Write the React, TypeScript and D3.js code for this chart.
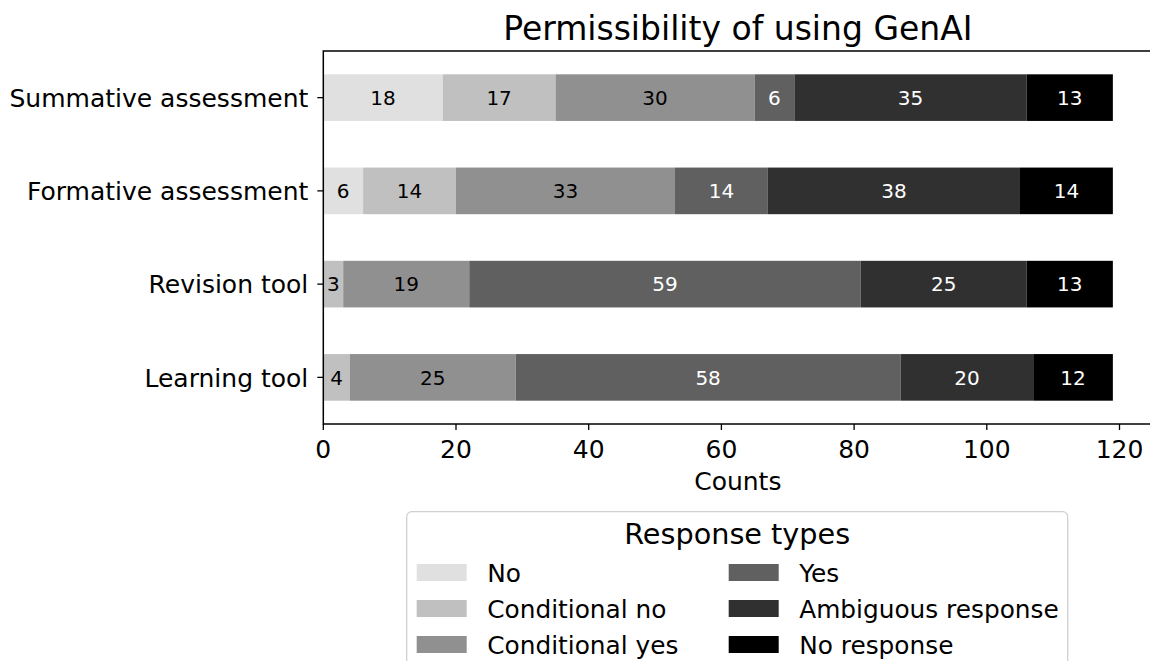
import React from "react";
import * as d3 from "d3";

const categories = ["Summative assessment", "Formative assessment", "Revision tool", "Learning tool"];
const responseTypes = ["No", "Conditional no", "Conditional yes", "Yes", "Ambiguous response", "No response"];
const colors = ["#e0e0e0", "#c0c0c0", "#909090", "#606060", "#303030", "#000000"];
const textColors = ["#000", "#000", "#000", "#fff", "#fff", "#fff"];
// values per response type, in category order
const noVals = [18, 6, 0, 0];
const condNoVals = [17, 14, 3, 4];
const condYesVals = [30, 33, 19, 25];
const yesVals = [6, 14, 59, 58];
const ambiguousVals = [35, 38, 25, 20];
const noResponseVals = [13, 14, 13, 12];
const seriesValues = [noVals, condNoVals, condYesVals, yesVals, ambiguousVals, noResponseVals];
const xTicks = [0, 20, 40, 60, 80, 100, 120];

const FONT = "'DejaVu Sans', sans-serif";

export default function App() {
  const W = 1150, H = 661;
  const left = 323.3;
  const top = 51, bottom = 424;
  const totals = categories.map((_, i) => d3.sum(seriesValues, (s) => s[i]));
  const xMax = (d3.max(totals) as number) * 1.05;
  const x = d3.scaleLinear().domain([0, xMax]).range([left, left + 6.635 * xMax]);
  const n = categories.length;
  // category index 0 at top; position value = n-1-i
  const y = d3.scaleLinear().domain([-0.5, n - 0.5]).range([bottom, top]);
  const barH = y(0) - y(0.5);

  const stack = categories.map((c, i) => {
    let acc = 0;
    return seriesValues.map((s, k) => {
      const v = s[i];
      const seg = { k, x0: acc, x1: acc + v, v };
      acc += v;
      return seg;
    });
  });

  const right = x(xMax);
  const legendRows = 3;

  return (
    <svg width={W} height={H} style={{ position: "absolute", left: 0, top: 0, display: "block" }} fontFamily={FONT}>
      <rect x={0} y={0} width={W} height={H} fill="#fff" />
      <text x={(left + right) / 2} y={39.5} textAnchor="middle" fontSize={33} fill="#000">
        Permissibility of using GenAI
      </text>
      {categories.map((c, i) => {
        const cy = y(n - 1 - i);
        return (
          <g key={c}>
            {stack[i].map((seg) =>
              seg.v > 0 ? (
                <g key={seg.k}>
                  <rect
                    x={x(seg.x0)}
                    y={cy - barH / 2}
                    width={x(seg.x1) - x(seg.x0)}
                    height={barH}
                    fill={colors[seg.k]}
                  />
                  <text
                    x={(x(seg.x0) + x(seg.x1)) / 2}
                    y={cy}
                    dy="0.36em"
                    textAnchor="middle"
                    fontSize={20}
                    fill={textColors[seg.k]}
                  >
                    {seg.v}
                  </text>
                </g>
              ) : null
            )}
            <line x1={left - 6} x2={left} y1={cy} y2={cy} stroke="#000" strokeWidth={1.3} />
            <text x={left - 15} y={cy} dy="0.37em" textAnchor="end" fontSize={25} fill="#000">
              {c}
            </text>
          </g>
        );
      })}
      {/* spines */}
      <rect x={left} y={top} width={right - left} height={bottom - top} fill="none" stroke="#000" strokeWidth={1.5} />
      {xTicks.map((t) => (
        <g key={t}>
          <line x1={x(t)} x2={x(t)} y1={bottom} y2={bottom + 6} stroke="#000" strokeWidth={1.3} />
          <text x={x(t)} y={458.3} textAnchor="middle" fontSize={25} fill="#000">
            {t}
          </text>
        </g>
      ))}
      <text x={(left + right) / 2} y={490} textAnchor="middle" fontSize={25} fill="#000">
        Counts
      </text>
      {/* legend */}
      <rect x={406.7} y={511.7} width={661} height={200} rx={5} fill="#fff" stroke="#d0d0d0" strokeWidth={1.3} />
      <text x={(406.7 + 1067.7) / 2} y={544.3} textAnchor="middle" fontSize={28.7} fill="#000">
        Response types
      </text>
      {responseTypes.map((r, k) => {
        const col = Math.floor(k / legendRows);
        const row = k % legendRows;
        const px = 416.7 + col * 312;
        const ry = 572.5 + row * 36;
        return (
          <g key={r}>
            <rect x={px} y={ry - 8.5} width={50} height={17} fill={colors[k]} />
            <text x={px + 70.5} y={ry + 9} fontSize={24.8} fill="#000">
              {r}
            </text>
          </g>
        );
      })}
    </svg>
  );
}
